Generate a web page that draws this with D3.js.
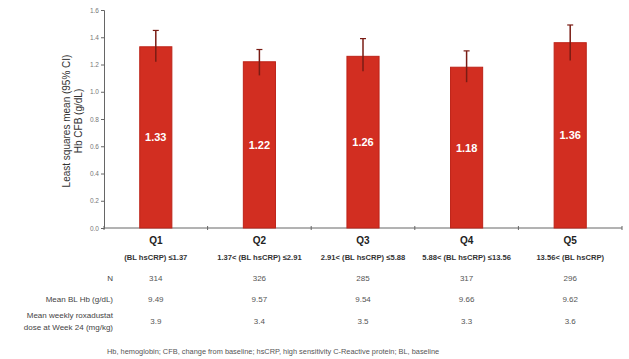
<!DOCTYPE html>
<html>
<head>
<meta charset="utf-8">
<script src="https://cdn.jsdelivr.net/npm/d3@7"></script>
<style>
  body { margin: 0; background: #fff; }
  svg { display: block; font-family: "Liberation Sans", Arial, sans-serif; }
</style>
</head>
<body>
<div id="chart"></div>
<script>
// --- Data ---
const quintiles = ["Q1", "Q2", "Q3", "Q4", "Q5"];
const ranges = ["(BL hsCRP) \u22641.37", "1.37< (BL hsCRP) \u22642.91", "2.91< (BL hsCRP) \u22645.88",
                "5.88< (BL hsCRP) \u226413.56", "13.56< (BL hsCRP)"];
const lsMeans = [1.33, 1.22, 1.26, 1.18, 1.36];
const ciLower = [1.22, 1.12, 1.15, 1.07, 1.23];
const ciUpper = [1.45, 1.31, 1.39, 1.30, 1.49];
const nPatients = [314, 326, 285, 317, 296];
const meanBLHb = ["9.49", "9.57", "9.54", "9.66", "9.62"];
const meanDose = ["3.9", "3.4", "3.5", "3.3", "3.6"];
const yTicks = [0, 0.2, 0.4, 0.6, 0.8, 1.0, 1.2, 1.4, 1.6];
const footnote = "Hb, hemoglobin; CFB, change from baseline; hsCRP, high sensitivity C-Reactive protein; BL, baseline";

// --- Rendering ---
const width = 629, height = 359;
const margin = { top: 10, right: 7, bottom: 131, left: 104 };

const svg = d3.select("#chart").append("svg")
    .attr("width", width)
    .attr("height", height);

const x = d3.scaleBand()
    .domain(quintiles)
    .range([margin.left, width - margin.right])
    .paddingInner(0.69)
    .paddingOuter(0.345);

const y = d3.scaleLinear()
    .domain([0, 1.6])
    .range([height - margin.bottom, margin.top]);

const data = quintiles.map((q, i) => ({
    q, mean: lsMeans[i], lo: ciLower[i], hi: ciUpper[i]
}));

// y axis
const yAxis = svg.append("g")
    .attr("transform", `translate(${margin.left},0)`)
    .call(d3.axisLeft(y).tickValues(yTicks).tickSize(3).tickFormat(d3.format(".1f")));
yAxis.select(".domain").attr("stroke", "#666");
yAxis.selectAll(".tick line").attr("stroke", "#666");
yAxis.selectAll("text").attr("fill", "#777").style("font-size", "6.5px").attr("x", -5);

// x axis (band boundaries as ticks)
const xAxis = svg.append("g")
    .attr("transform", `translate(0,${y(0)})`);
xAxis.append("line")
    .attr("x1", margin.left).attr("x2", width - margin.right)
    .attr("stroke", "#666");
const step = x.step();
d3.range(quintiles.length + 1).forEach(k => {
    const bx = margin.left + k * step;
    xAxis.append("line")
        .attr("x1", bx).attr("x2", bx)
        .attr("y1", -2).attr("y2", 2)
        .attr("stroke", "#666");
});

// bars
svg.selectAll("rect.bar")
    .data(data)
    .join("rect")
    .attr("class", "bar")
    .attr("x", d => x(d.q))
    .attr("y", d => y(d.mean))
    .attr("width", x.bandwidth())
    .attr("height", d => y(0) - y(d.mean))
    .attr("fill", "#d22e21")
    .attr("stroke", "#bd2318")
    .attr("stroke-width", 1);

// error bars
const eb = svg.selectAll("g.err")
    .data(data)
    .join("g")
    .attr("class", "err");
eb.append("line")
    .attr("x1", d => x(d.q) + x.bandwidth() / 2)
    .attr("x2", d => x(d.q) + x.bandwidth() / 2)
    .attr("y1", d => y(d.hi))
    .attr("y2", d => y(d.lo))
    .attr("stroke", "#7a1c14")
    .attr("stroke-width", 1.5);
eb.append("line")
    .attr("x1", d => x(d.q) + x.bandwidth() / 2 - 3)
    .attr("x2", d => x(d.q) + x.bandwidth() / 2 + 3)
    .attr("y1", d => y(d.hi))
    .attr("y2", d => y(d.hi))
    .attr("stroke", "#7a1c14")
    .attr("stroke-width", 1.2);

// value labels in bar middle
svg.selectAll("text.val")
    .data(data)
    .join("text")
    .attr("class", "val")
    .attr("x", d => x(d.q) + x.bandwidth() / 2)
    .attr("y", d => (y(d.mean) + y(0)) / 2 + 4)
    .attr("text-anchor", "middle")
    .attr("fill", "#fff")
    .style("font-size", "11px")
    .style("font-weight", "bold")
    .text(d => d.mean.toFixed(2));

// y axis title
const yTitle = svg.append("text")
    .attr("transform", `translate(70,121) rotate(-90)`)
    .attr("text-anchor", "middle")
    .attr("fill", "#333")
    .style("font-size", "10px");
yTitle.append("tspan").attr("x", 0).attr("dy", 0).text("Least squares mean (95% CI)");
yTitle.append("tspan").attr("x", 0).attr("dy", 11.5).text("Hb CFB (g/dL)");

// category labels
const cx = q => x(q) + x.bandwidth() / 2;
svg.selectAll("text.q")
    .data(quintiles)
    .join("text")
    .attr("class", "q")
    .attr("x", cx)
    .attr("y", 244)
    .attr("text-anchor", "middle")
    .attr("fill", "#222")
    .style("font-size", "10px")
    .style("font-weight", "bold")
    .text(d => d);
svg.selectAll("text.rng")
    .data(quintiles)
    .join("text")
    .attr("class", "rng")
    .attr("x", cx)
    .attr("y", 260)
    .attr("text-anchor", "middle")
    .attr("fill", "#333")
    .style("font-size", "7.6px")
    .style("font-weight", "bold")
    .text((d, i) => ranges[i]);

// table rows
const labelX = 113;
function tableRow(labelLines, values, yPos) {
    const lt = svg.append("text")
        .attr("x", labelX)
        .attr("text-anchor", "end")
        .attr("fill", "#444")
        .style("font-size", "8px");
    labelLines.forEach((line, k) => {
        lt.append("tspan")
            .attr("x", labelX)
            .attr("y", yPos - (labelLines.length - 1) * 6 + k * 12)
            .text(line);
    });
    svg.append("g").selectAll("text")
        .data(quintiles)
        .join("text")
        .attr("x", cx)
        .attr("y", yPos)
        .attr("text-anchor", "middle")
        .attr("fill", "#555")
        .style("font-size", "8px")
        .text((d, i) => values[i]);
}
tableRow(["N"], nPatients, 281);
tableRow(["Mean BL Hb (g/dL)"], meanBLHb, 302);
tableRow(["Mean weekly roxadustat", "dose at Week 24 (mg/kg)"], meanDose, 324);

// footnote
svg.append("text")
    .attr("x", 107)
    .attr("y", 354)
    .attr("fill", "#555")
    .style("font-size", "7.4px")
    .text(footnote);
</script>
</body>
</html>
